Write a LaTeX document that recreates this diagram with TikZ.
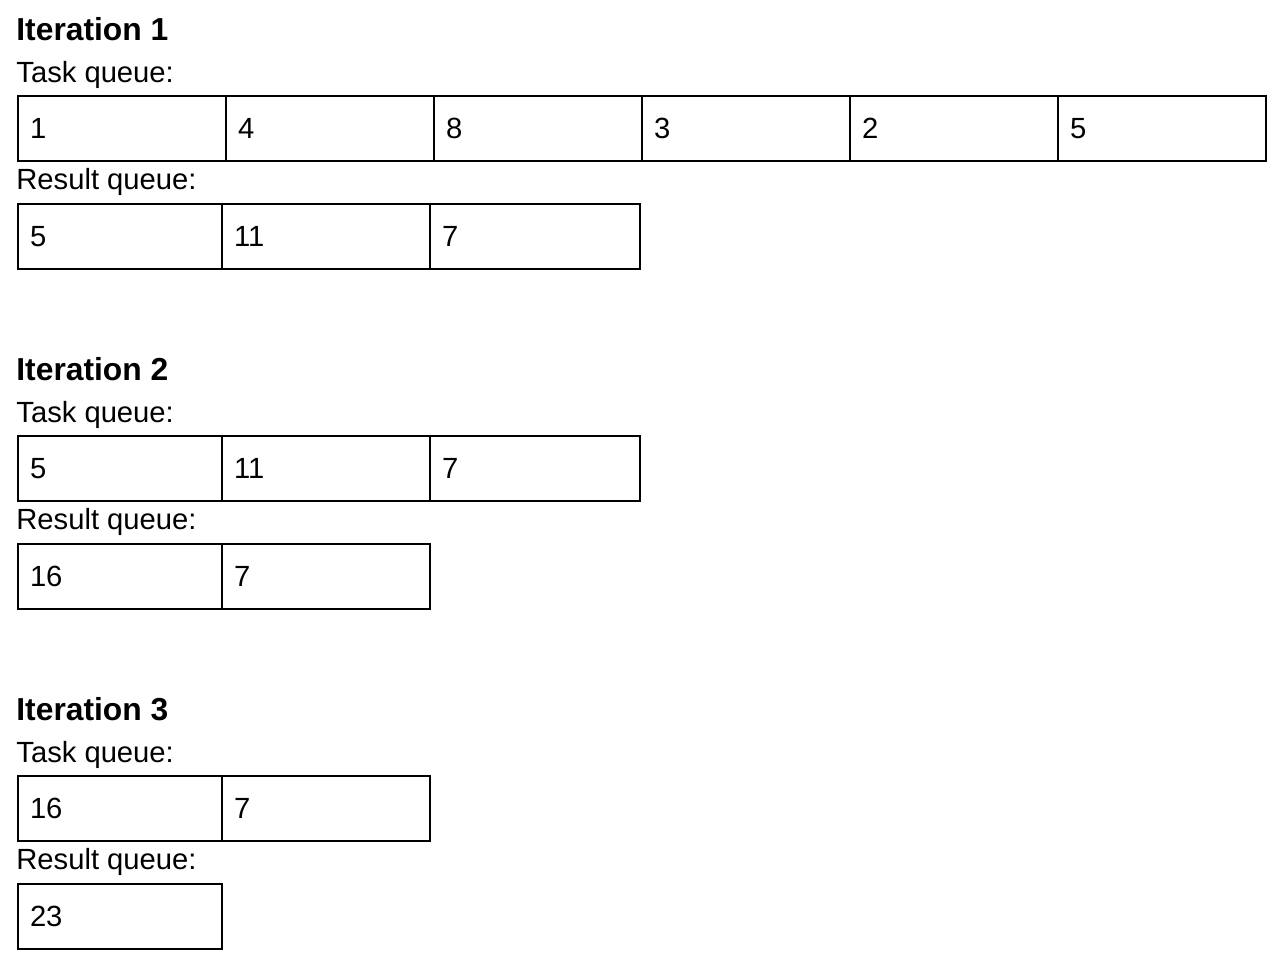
\documentclass[tikz,border=0pt]{standalone}
\usepackage{fontspec}
\setmainfont{Liberation Sans}
\begin{document}
\begin{tikzpicture}[x=0.5pt,y=-0.5pt,
  cell/.style={draw, line width=1pt, anchor=north west, minimum height=32.5pt,
    inner xsep=6pt, inner ysep=0pt, text width=#1, align=left, text depth=0pt,
    font=\fontsize{14.6pt}{17pt}\selectfont},
  wa/.style={cell=92pt},
  wb/.style={cell=90pt},
  wc/.style={cell=93pt},
  lbl/.style={anchor=base west, inner sep=0pt, font=\fontsize{14.6pt}{17pt}\selectfont},
  ttl/.style={anchor=base west, inner sep=0pt, font=\fontsize{15.9pt}{19pt}\selectfont\bfseries}]
\useasboundingbox (0,0) rectangle (1284,974);
% Iteration 1
\node[ttl] (t1) at (16,40.5) {Iteration 1};
\node[lbl] (q1) at (16,82.5) {Task queue:};
\node[wa] (a1) at (17,95) {1};
\node[wa] (a2) at (225,95) {4};
\node[wa] (a3) at (433,95) {8};
\node[wa] (a4) at (641,95) {3};
\node[wa] (a5) at (849,95) {2};
\node[wa] (a6) at (1057,95) {5};
\node[lbl] (r1) at (16,189.5) {Result queue:};
\node[wb] (b1) at (17,203) {5};
\node[wa] (b2) at (221,203) {11};
\node[wc] (b3) at (429,203) {7};
% Iteration 2
\node[ttl] (t2) at (16,380.5) {Iteration 2};
\node[lbl] (q2) at (16,422.5) {Task queue:};
\node[wb] (c1) at (17,435) {5};
\node[wa] (c2) at (221,435) {11};
\node[wc] (c3) at (429,435) {7};
\node[lbl] (r2) at (16,529.5) {Result queue:};
\node[wb] (d1) at (17,543) {16};
\node[wa] (d2) at (221,543) {7};
% Iteration 3
\node[ttl] (t3) at (16,720.5) {Iteration 3};
\node[lbl] (q3) at (16,762.5) {Task queue:};
\node[wb] (e1) at (17,775) {16};
\node[wa] (e2) at (221,775) {7};
\node[lbl] (r3) at (16,869.5) {Result queue:};
\node[wb] (f1) at (17,883) {23};
\end{tikzpicture}
\end{document}
